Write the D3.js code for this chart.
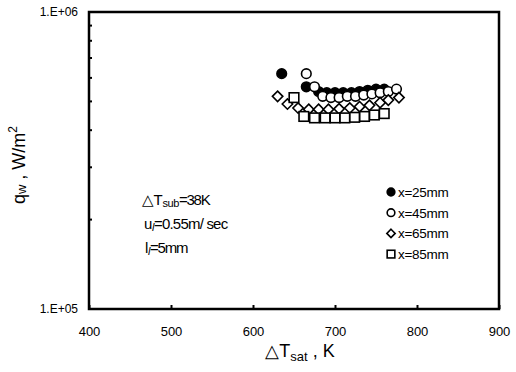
<!DOCTYPE html>
<html>
<head>
<meta charset="utf-8">
<script src="https://cdn.jsdelivr.net/npm/d3@7"></script>
<style>
  body { margin: 0; background: #fff; }
  svg { font-family: "Liberation Sans", Arial, sans-serif; }
</style>
</head>
<body>
<svg width="516" height="372"></svg>
<script>
// data: ΔTsat (K) and qw (W/m2)
let x25_t = [635, 665, 680, 690, 700, 710, 720, 730, 740, 750, 760],
    x25_q = [6.2e5, 5.6e5, 5.4e5, 5.35e5, 5.35e5, 5.35e5, 5.35e5, 5.4e5, 5.45e5, 5.5e5, 5.5e5];
let x45_t = [665, 675, 685, 695, 705, 715, 725, 735, 745, 755, 765, 775],
    x45_q = [6.2e5, 5.6e5, 5.2e5, 5.15e5, 5.15e5, 5.2e5, 5.2e5, 5.25e5, 5.3e5, 5.35e5, 5.4e5, 5.5e5];
let x65_t = [630, 642, 655, 668, 680, 692, 705, 718, 730, 742, 755, 765, 778],
    x65_q = [5.2e5, 4.9e5, 4.75e5, 4.7e5, 4.7e5, 4.7e5, 4.72e5, 4.75e5, 4.8e5, 4.85e5, 4.95e5, 5.05e5, 5.15e5];
let x85_t = [650, 662, 675, 688, 700, 712, 724, 736, 748, 760],
    x85_q = [5.15e5, 4.45e5, 4.4e5, 4.4e5, 4.4e5, 4.4e5, 4.42e5, 4.45e5, 4.5e5, 4.55e5];

let series_names = ["x=25mm", "x=45mm", "x=65mm", "x=85mm"];
let x_ticks = [400, 500, 600, 700, 800, 900];
let y_ticks = [1e5, 1e6];
let y_minor = [2e5, 3e5, 4e5, 5e5, 6e5, 7e5, 8e5, 9e5];

let series = [
    {name: series_names[0], shape: "dot",     t: x25_t, q: x25_q},
    {name: series_names[1], shape: "circle",  t: x45_t, q: x45_q},
    {name: series_names[2], shape: "diamond", t: x65_t, q: x65_q},
    {name: series_names[3], shape: "square",  t: x85_t, q: x85_q}
];

const svg = d3.select("svg");
const L = 89, R = 499, T = 12, B = 309;

const x = d3.scaleLinear().domain([400, 900]).range([L, R]);
const y = d3.scaleLog().domain([1e5, 1e6]).range([B, T]);

// x axis
const xg = svg.append("g")
    .attr("transform", `translate(0,${B})`)
    .call(d3.axisBottom(x).tickValues(x_ticks).tickSizeInner(-4).tickSizeOuter(0).tickPadding(18));
xg.select(".domain").remove();
xg.selectAll("line").attr("stroke-width", 2);
xg.selectAll("text").attr("font-size", 13).attr("fill", "#000");

// y axis
const yg = svg.append("g")
    .attr("transform", `translate(${L},0)`)
    .call(d3.axisLeft(y).tickValues(y_ticks).tickSize(0).tickPadding(11)
        .tickFormat(d => "1.E+0" + Math.round(Math.log10(d))));
yg.select(".domain").remove();
yg.selectAll("text").attr("font-size", 12).attr("fill", "#000");

svg.append("g").selectAll("line")
    .data(y_minor)
    .join("line")
    .attr("x1", L).attr("x2", L + 3)
    .attr("y1", d => y(d)).attr("y2", d => y(d))
    .attr("stroke", "#000").attr("stroke-width", 2);

// frame
svg.append("rect")
    .attr("x", L).attr("y", T)
    .attr("width", R - L).attr("height", B - T)
    .attr("fill", "none").attr("stroke", "#000").attr("stroke-width", 2.5);

// markers
function drawMark(g, shape, cx, cy, k) {
    k = k || 1;
    if (shape === "dot" || shape === "circle") {
        g.append("circle").attr("cx", cx).attr("cy", cy).attr("r", 4.8 * k)
            .attr("fill", shape === "dot" ? "#000" : "#fff")
            .attr("stroke", "#000").attr("stroke-width", 1.6);
    } else if (shape === "square") {
        g.append("rect").attr("x", cx - 4.8 * k).attr("y", cy - 4.8 * k)
            .attr("width", 9.6 * k).attr("height", 9.6 * k)
            .attr("fill", "#fff").attr("stroke", "#000").attr("stroke-width", 1.6);
    } else {
        const s = 5.2 * k;
        g.append("path")
            .attr("d", `M${cx},${cy - s}L${cx + s},${cy}L${cx},${cy + s}L${cx - s},${cy}Z`)
            .attr("fill", "#fff").attr("stroke", "#000").attr("stroke-width", 1.6);
    }
}

const marks = svg.append("g");
series.forEach(s => {
    s.t.forEach((t, i) => drawMark(marks, s.shape, x(t), y(s.q[i])));
});

// legend
const lg = svg.append("g");
series.forEach((s, i) => {
    const ly = 192 + i * 20.7;
    drawMark(lg, s.shape, 391, ly, 0.8);
    lg.append("text").attr("x", 398).attr("y", ly + 5)
        .attr("font-size", 13.5).attr("letter-spacing", -0.3).text(s.name);
});

// conditions text
const ann = svg.append("g").attr("font-size", 15).attr("letter-spacing", -0.4);
let t1 = ann.append("text").attr("x", 142).attr("y", 205);
t1.append("tspan").text("△T");
t1.append("tspan").attr("font-size", 11).attr("dy", 2).text("sub");
t1.append("tspan").attr("dy", -2).attr("letter-spacing", -1.2).text("=38K");

let t2 = ann.append("text").attr("x", 144).attr("y", 229);
t2.append("tspan").text("u");
t2.append("tspan").attr("font-size", 11).attr("font-style", "italic").attr("dy", 2).text("l");
t2.append("tspan").attr("dy", -2).attr("letter-spacing", -0.8).text("=0.55m/ sec");

let t3 = ann.append("text").attr("x", 145).attr("y", 253);
t3.append("tspan").text("l");
t3.append("tspan").attr("font-size", 11).attr("font-style", "italic").attr("dy", 2).text("l");
t3.append("tspan").attr("dy", -2).attr("letter-spacing", -1.2).text("=5mm");

// axis titles
let xt = svg.append("text").attr("x", 300).attr("y", 357)
    .attr("text-anchor", "middle").attr("font-size", 18);
xt.append("tspan").text("△T");
xt.append("tspan").attr("font-size", 13).attr("dy", 4).text("sat");
xt.append("tspan").attr("dy", -4).text(" , K");

let yt = svg.append("text")
    .attr("transform", "translate(25,165) rotate(-90)")
    .attr("text-anchor", "middle").attr("font-size", 18);
yt.append("tspan").text("q");
yt.append("tspan").attr("font-size", 13).attr("dy", 1).text("w");
yt.append("tspan").attr("dy", -1).text(" ,  W/m");
yt.append("tspan").attr("font-size", 12).attr("dy", -8).text("2");
</script>
</body>
</html>
